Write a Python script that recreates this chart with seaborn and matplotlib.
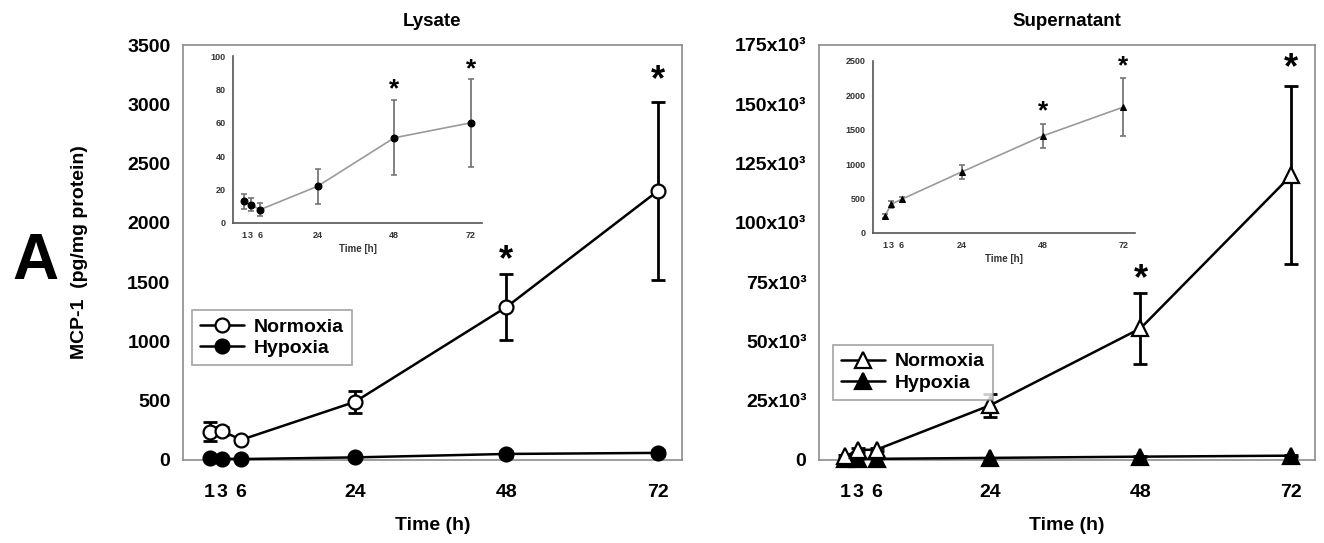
import matplotlib
matplotlib.use("Agg")
import matplotlib.pyplot as plt
from matplotlib.lines import Line2D
import seaborn as sns
import pandas as pd

sns.set_theme(style="white")
plt.rcParams['font.family'] = ['Liberation Sans', 'DejaVu Sans']
plt.rcParams.update({"text.color": "black", "axes.labelcolor": "black",
                     "xtick.color": "black", "ytick.color": "black"})

# ---------------- data ----------------
time_h = [1, 3, 6, 24, 48, 72]
tick_labels = ["1", "3", "6", "24", "48", "72"]

lys_norm = [240, 245, 170, 490, 1290, 2270]
lys_norm_err = [80, 30, 20, 90, 275, 750]
lys_hyp = [13, 11, 8, 22, 51, 60]
lys_hyp_err = [4.5, 4, 4, 10.5, 22.5, 26.5]
lys_stars_main = {48: 1680, 72: 3200}
lys_stars_inset = {48: 80, 72: 92}

sup_norm = [1500, 4200, 4400, 23000, 55500, 120000]
sup_norm_err = [500, 800, 800, 5000, 15000, 37500]
sup_hyp = [250, 420, 490, 890, 1410, 1830]
sup_hyp_err = [30, 50, 40, 100, 180, 420]
sup_stars_main = {48: 76000, 72: 165000}
sup_stars_inset = {48: 1770, 72: 2430}

lys_yticks = [0, 500, 1000, 1500, 2000, 2500, 3000, 3500]
lys_yticklabels = ["0", "500", "1000", "1500", "2000", "2500", "3000", "3500"]
sup_yticks = [0, 25000, 50000, 75000, 100000, 125000, 150000, 175000]
sup_yticklabels = ["0", "25x10³", "50x10³", "75x10³", "100x10³", "125x10³", "150x10³", "175x10³"]
lys_inset_yticks = [0, 20, 40, 60, 80, 100]
sup_inset_yticks = [0, 500, 1000, 1500, 2000, 2500]

# ---------------- figure ----------------
W, H = 1324, 543
fig = plt.figure(figsize=(W / 100, H / 100), dpi=100)

def px_rect(l, r, t, b):
    return [l / W, 1 - b / H, (r - l) / W, (b - t) / H]

axL = fig.add_axes(px_rect(183, 682, 45, 460))
axR = fig.add_axes(px_rect(819, 1315, 45, 460))
inL = fig.add_axes(px_rect(233, 482, 56, 223))
inR = fig.add_axes(px_rect(873, 1135, 61, 233))

gray = "#8c8c8c"

def main_panel(ax, norm, norm_err, hyp, hyp_err, marker, ms, ylim, yticks, ylabels,
               title, stars, legend_anchor):
    for vals, errs, face, label in ((hyp, hyp_err, "black", "Hypoxia"),
                                    (norm, norm_err, "white", "Normoxia")):
        ax.errorbar(time_h, vals, yerr=errs, fmt="none", ecolor="black",
                    elinewidth=2, capsize=5, capthick=2, zorder=2)
        df = pd.DataFrame({"Time": time_h, "Value": vals})
        sns.lineplot(data=df, x="Time", y="Value", ax=ax, color="black",
                     linewidth=1.8, marker=marker, markersize=ms,
                     markerfacecolor=face, markeredgecolor="black",
                     markeredgewidth=1.6, zorder=3, legend=False, clip_on=False)
    handles = [Line2D([], [], color="black", lw=1.8, marker=marker, ms=ms,
                      mfc="white", mec="black", mew=1.6),
               Line2D([], [], color="black", lw=1.8, marker=marker, ms=ms,
                      mfc="black", mec="black", mew=1.6)]
    leg = ax.legend(handles, ["Normoxia", "Hypoxia"], loc="upper left",
                    bbox_to_anchor=legend_anchor, borderaxespad=0, frameon=True,
                    fancybox=False, edgecolor=gray, fontsize=14, handlelength=2.3,
                    borderpad=0.4, labelspacing=0.2, handletextpad=0.5)
    leg.get_frame().set_linewidth(1.2)
    for t in leg.get_texts():
        t.set_fontweight("bold")
    for x, y in stars.items():
        ax.text(x, y, "*", ha="center", va="center", fontsize=26, fontweight="bold")
    ax.set_xlim(-3.2, 75.8)
    ax.set_ylim(*ylim)
    ax.set_xticks(time_h)
    ax.set_xticklabels(tick_labels)
    ax.set_yticks(yticks)
    ax.set_yticklabels(ylabels)
    ax.tick_params(axis="both", direction="out", length=5, width=1, color=gray,
                   labelsize=14)
    ax.tick_params(axis="x", pad=12)
    ax.tick_params(axis="y", pad=4)
    for lab in ax.get_xticklabels() + ax.get_yticklabels():
        lab.set_fontweight("bold")
    for sp in ax.spines.values():
        sp.set_color(gray)
        sp.set_linewidth(1.2)
        sp.set_visible(True)
    ax.set_title(title, fontsize=13.5, fontweight="bold", pad=14)
    ax.set_xlabel("Time (h)", fontsize=14, fontweight="bold", labelpad=12)
    ax.set_ylabel("")

main_panel(axL, lys_norm, lys_norm_err, lys_hyp, lys_hyp_err, "o", 10, (0, 3500),
           lys_yticks, lys_yticklabels, "Lysate", lys_stars_main, (0.018, 0.361))
main_panel(axR, sup_norm, sup_norm_err, sup_hyp, sup_hyp_err, "^", 11.5, (0, 175000),
           sup_yticks, sup_yticklabels, "Supernatant", sup_stars_main, (0.028, 0.277))

axL.set_ylabel("MCP-1  (pg/mg protein)", fontsize=14, fontweight="bold", labelpad=28)

def inset(ax, vals, errs, marker, ylim, yticks, stars):
    df = pd.DataFrame({"Time": time_h, "Value": vals})
    ax.errorbar(time_h, vals, yerr=errs, fmt="none", ecolor="#777777",
                elinewidth=1.3, capsize=2.5, capthick=1.2, zorder=2)
    sns.lineplot(data=df, x="Time", y="Value", ax=ax, color="#9a9a9a",
                 linewidth=1.2, marker=marker, markersize=5,
                 markerfacecolor="black", markeredgecolor="black", zorder=3)
    for x, y in stars.items():
        ax.text(x, y, "*", ha="center", va="center", fontsize=19, fontweight="bold")
    ax.set_xlim(-2.5, 75.5)
    ax.set_ylim(*ylim)
    ax.set_xticks(time_h)
    ax.set_xticklabels(tick_labels)
    ax.set_yticks(yticks)
    ax.set_yticklabels([str(v) for v in yticks])
    ax.tick_params(axis="both", direction="out", length=2.5, width=0.8,
                   color="#555555", labelsize=6.5, labelcolor="#333333", pad=3)
    for lab in ax.get_xticklabels() + ax.get_yticklabels():
        lab.set_fontweight("bold")
    ax.spines["top"].set_visible(False)
    ax.spines["right"].set_visible(False)
    for s in ("left", "bottom"):
        ax.spines[s].set_color("#555555")
        ax.spines[s].set_linewidth(1.2)
    ax.set_xlabel("Time [h]", fontsize=7, fontweight="bold", color="#333333", labelpad=3)
    ax.set_ylabel("")
    ax.patch.set_alpha(0)

inset(inL, lys_hyp, lys_hyp_err, "o", (0, 100), lys_inset_yticks, lys_stars_inset)
inset(inR, sup_hyp, sup_hyp_err, "^", (0, 2500), sup_inset_yticks, sup_stars_inset)

fig.text(35 / W, 1 - 262 / H, "A", fontsize=46, fontweight="bold",
         ha="center", va="center")

fig.savefig("out.png", dpi=100)
